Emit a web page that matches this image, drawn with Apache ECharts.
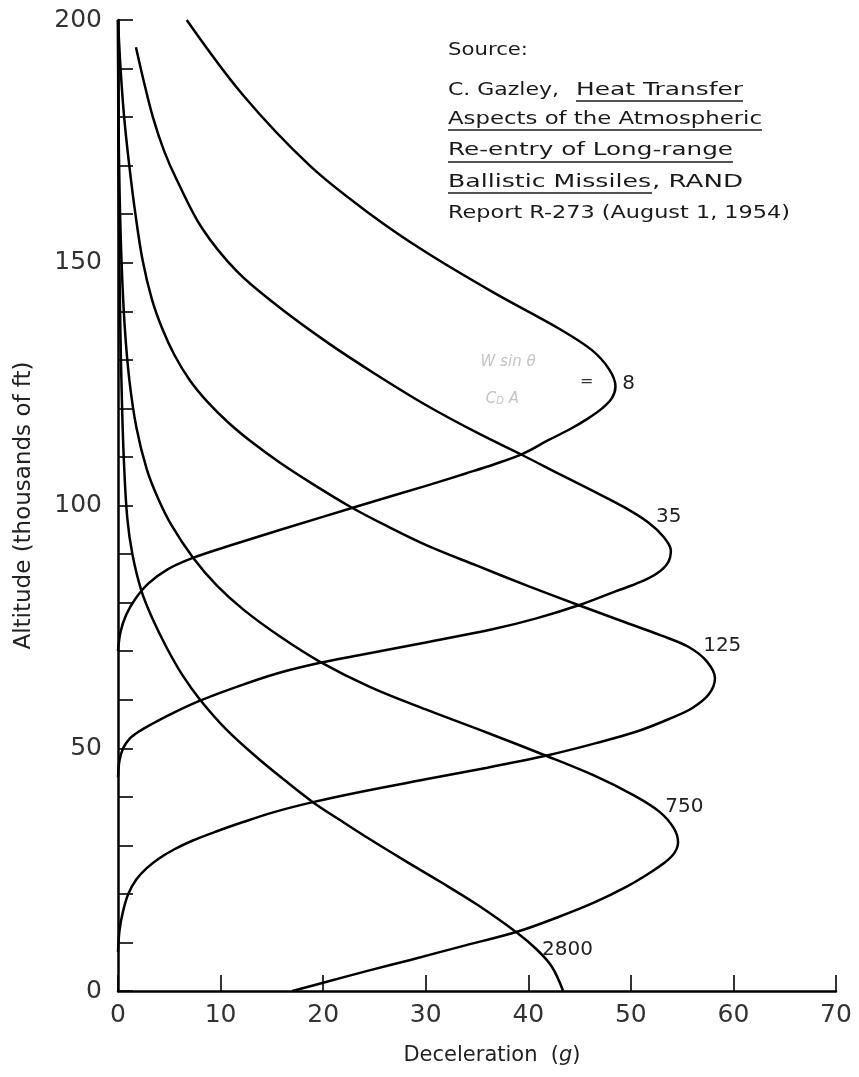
<!DOCTYPE html>
<html>
<head>
<meta charset="utf-8">
<title>Re-entry deceleration vs altitude</title>
<script src="https://cdn.jsdelivr.net/npm/echarts@6/dist/echarts.min.js"></script>
<style>
  html, body { margin: 0; padding: 0; background: #fff; }
  #chart { width: 859px; height: 1077px; }
</style>
</head>
<body>
<div id="chart"></div>
<script>
// W/(CdA) value of each curve
const ballisticParams = ['8', '35', '125', '750', '2800'];

// [deceleration (g), altitude (thousands of ft)]
const curve8 = [
  [6.7, 200], [12.2, 184.5], [18.7, 170], [24.6, 160], [30, 152.2], [36.5, 144], [43.1, 136.3],
  [46.2, 132], [47.9, 128], [48.5, 124.5], [48.15, 122.1], [47.2, 120], [45.8, 117.9],
  [44.05, 115.7], [41.9, 113.4], [39.5, 110.7], [36.7, 108.5], [33.9, 106.6], [30.1, 104.1],
  [23.6, 100], [16, 95.1], [11, 91.8], [7.3, 89.2], [4.8, 86.8], [3, 84], [1.7, 80.8], [0.8, 77.5],
  [0.25, 74], [0, 70]
];
const curve35 = [
  [1.75, 194.4], [2.5, 187.5], [3.4, 180], [4.5, 173], [5.75, 167], [8.2, 157.1], [11.6, 148.2],
  [15.5, 141.2], [20.4, 133.6], [25, 127.2], [30.1, 120.6], [35, 115], [39.5, 110.3], [43, 106.5],
  [46.3, 103], [49.3, 99.7], [51.7, 96.5], [53.2, 93.5], [53.9, 90.7], [53.6, 88.2], [52.6, 86.1],
  [51, 84.3], [48.5, 82.3], [45, 79.5], [40.7, 76.7], [36.5, 74.5], [30, 71.8], [23.6, 69.2],
  [19.7, 67.6], [15.5, 65.4], [11.5, 62.6], [8, 59.8], [5.3, 57.2], [3.3, 55], [2, 53.4],
  [1.1, 51.9], [0.5, 50], [0.15, 47.5], [0, 44]
];
const curve125 = [
  [0, 200], [0.25, 190], [0.6, 180], [1.1, 170], [1.7, 160], [2.4, 150.5], [3.3, 142.5],
  [4.3, 136.5], [5.5, 131], [7, 125.8], [8.7, 121.4], [10.8, 117], [13.2, 112.8], [15.8, 108.8],
  [19, 104.4], [22.6, 99.8], [26, 96], [30, 91.9], [35, 87.6], [40, 83.4], [45, 79.4], [49.5, 75.9],
  [53, 73.2], [55.6, 70.9], [57.4, 67.9], [58.2, 64.4], [57.6, 61.1], [56, 58.3],
  [53.8, 56.1], [50.8, 53.6], [46.7, 51.1], [41.8, 48.5], [36, 46], [30, 43.6], [23.6, 41],
  [19, 38.9], [15.3, 36.9], [12.2, 34.8], [9.5, 32.8], [7.3, 31], [5.5, 29.2], [4, 27.3],
  [2.8, 25.3], [1.8, 23], [1, 20], [0.5, 16.5], [0.15, 12.5], [0, 8]
];
const curve750 = [
  [0, 200], [0.05, 180], [0.15, 165], [0.35, 150], [0.65, 137], [1.1, 126], [1.8, 116],
  [2.8, 107.5], [3.9, 101.5], [5.2, 96], [7.3, 89.3], [9.6, 83.6], [12.2, 78.6], [15.8, 73],
  [19.7, 67.8], [24.6, 62.6], [30, 58], [36, 53.2], [41.8, 48.4], [46.5, 44.3], [50.2, 40.4],
  [52.8, 36.9], [54.2, 33.5], [54.6, 30.6], [54.2, 28.3], [53.2, 26.3], [51.6, 24], [49.5, 21.4],
  [46.5, 18.3], [43, 15.3], [38.9, 12.2], [33.5, 9.2], [28.5, 6.4], [24.6, 4.3], [20, 1.7], [17, 0]
];
const curve2800 = [
  [0, 200], [0.05, 170], [0.2, 140], [0.4, 120], [0.6, 108], [0.9, 97.5], [1.4, 90], [2.3, 82.3],
  [3.4, 76.5], [4.8, 70.5], [6.3, 65], [8, 60], [10.5, 54], [13.5, 48.2], [16.2, 43.5], [19, 38.9],
  [21.8, 35], [24.6, 31.2], [28, 26.8], [31.5, 22.4], [35, 17.8], [38.9, 12], [40.8, 8.6],
  [42.3, 5], [43.4, 0]
];
const curves = [curve8, curve35, curve125, curve750, curve2800];

// where each curve's W/(CdA) label sits, in data units
const labelAnchors = [[49.1, 125], [52.4, 97.7], [57, 71.1], [53.3, 38], [41.3, 8.5]];

const xTicks = [0, 10, 20, 30, 40, 50, 60, 70];
const yTicks = [0, 50, 100, 150, 200];

const FONT = '"DejaVu Sans", sans-serif';
const INK = '#1a1a1a';

// source note, stretched to the width of the hand lettering
const measureCtx = document.createElement('canvas').getContext('2d');
function stretchedText(text, x0, x1, yc, size) {
  measureCtx.font = size + 'px "DejaVu Sans"';
  const w = measureCtx.measureText(text).width;
  return {
    type: 'text', x: x0, y: yc, scaleX: (x1 - x0) / w, z: 10, silent: true,
    style: { text: text, font: size + 'px ' + FONT, fill: INK, textAlign: 'left', textVerticalAlign: 'middle' }
  };
}
function underline(x0, x1, y) {
  return {
    type: 'line', z: 10, silent: true,
    shape: { x1: x0, y1: y, x2: x1, y2: y },
    style: { stroke: INK, lineWidth: 1.6 }
  };
}

const sourceNote = [
  stretchedText('Source:', 448, 528, 51, 17),
  stretchedText('C. Gazley,', 448, 559, 91, 17),
  stretchedText('Heat Transfer', 576, 743, 91, 17),
  underline(576, 743, 101),
  stretchedText('Aspects of the Atmospheric', 448, 762, 120, 17),
  underline(448, 762, 130),
  stretchedText('Re-entry of Long-range', 448, 733, 151, 17),
  underline(448, 733, 162),
  stretchedText('Ballistic Missiles', 448, 651, 183, 17),
  stretchedText(', RAND', 652, 743, 183, 17),
  underline(448, 652, 193),
  stretchedText('Report R-273 (August 1, 1954)', 448, 790, 214, 17)
];

const labelStyle = { show: true, position: 'right', distance: 0, fontFamily: FONT, fontSize: 20, color: '#222' };

const series = curves.map(function (pts, i) {
  const marks = [{ coord: labelAnchors[i], value: ballisticParams[i] }];
  if (i === 0) {
    // faint W/(CdA) legend written beside the first curve
    marks.push({ coord: [45.0, 125.4], value: '=', label: { formatter: '=', color: '#333', fontSize: 16 } });
    marks.push({ coord: [35.3, 129.5], value: 'W sin θ', label: { formatter: 'W sin θ', color: '#c4c4c4', fontStyle: 'italic', fontSize: 15 } });
    marks.push({ coord: [35.8, 122], value: 'CD A', label: { formatter: '{t|C}{s|D} {t|A}', color: '#c4c4c4', fontStyle: 'italic', fontSize: 15,
      rich: { t: { fontSize: 15, color: '#c4c4c4', fontStyle: 'italic' }, s: { fontSize: 10, color: '#c4c4c4', verticalAlign: 'bottom', padding: [6, 0, 0, 0] } } } });
  }
  return {
    name: ballisticParams[i],
    type: 'line',
    data: pts,
    showSymbol: false,
    smooth: 0.35,
    lineStyle: { color: '#000', width: 2.5 },
    silent: true,
    markPoint: {
      symbol: 'circle', symbolSize: 1, itemStyle: { color: 'rgba(0,0,0,0)' },
      label: Object.assign({ formatter: '{c}' }, labelStyle),
      data: marks
    }
  };
});

const chart = echarts.init(document.getElementById('chart'));
chart.setOption({
  animation: false,
  backgroundColor: '#fff',
  grid: { left: 118, right: 23, top: 20, bottom: 86, containLabel: false },
  xAxis: {
    type: 'value',
    min: xTicks[0], max: xTicks[xTicks.length - 1], interval: xTicks[1] - xTicks[0],
    name: 'Deceleration  ({i|g})',
    nameLocation: 'middle', nameGap: 54,
    nameTextStyle: { fontFamily: FONT, fontSize: 21, color: '#222', padding: [0, 0, 0, 30], rich: { i: { fontFamily: FONT, fontSize: 21, fontStyle: 'italic', color: '#222' } } },
    axisLine: { lineStyle: { color: '#000', width: 2.5 } },
    axisTick: { inside: true, length: 16, lineStyle: { color: '#000', width: 1.6 } },
    axisLabel: { margin: 12, fontFamily: FONT, fontSize: 25, color: '#333' },
    splitLine: { show: false }
  },
  yAxis: {
    type: 'value',
    min: yTicks[0], max: yTicks[yTicks.length - 1], interval: yTicks[1] - yTicks[0],
    name: 'Altitude (thousands of ft)',
    nameLocation: 'middle', nameGap: 82, nameRotate: 90,
    nameTextStyle: { fontFamily: FONT, fontSize: 23, color: '#222' },
    axisLine: { lineStyle: { color: '#000', width: 2.5 } },
    axisTick: { inside: true, length: 15, lineStyle: { color: '#000', width: 1.6 } },
    minorTick: { show: true, splitNumber: 5, length: 15, lineStyle: { color: '#000', width: 1.6 } },
    axisLabel: { margin: 16, fontFamily: FONT, fontSize: 25, color: '#333' },
    splitLine: { show: false }
  },
  graphic: sourceNote,
  series: series
});
</script>
</body>
</html>
